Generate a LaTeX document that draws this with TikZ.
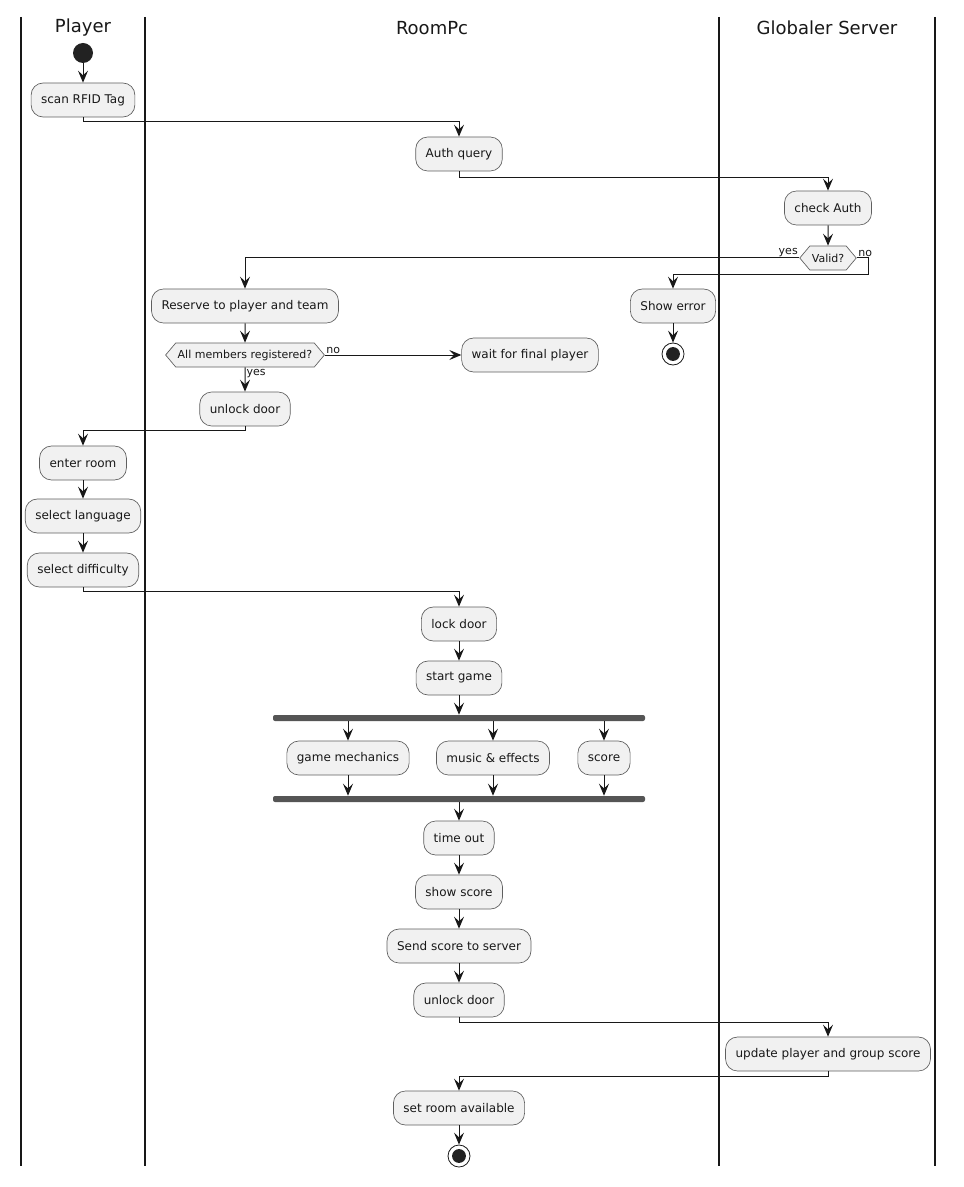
\documentclass[tikz,border=0pt]{standalone}
\usepackage{fontspec}
\setmainfont{DejaVu Sans}
\usetikzlibrary{arrows.meta,shapes.symbols}
\definecolor{boxfill}{HTML}{F1F1F1}
\definecolor{boxdraw}{HTML}{5F5F5F}
\definecolor{ink}{HTML}{181818}
\definecolor{barc}{HTML}{555555}
\definecolor{dotc}{HTML}{222222}
\begin{document}
\begin{tikzpicture}[x=0.75pt,y=-0.75pt,
  act/.style={draw=boxdraw, fill=boxfill, rounded corners=9pt, minimum height=25.5pt,
    inner xsep=7.5pt, inner ysep=0pt, line width=0.5pt, font=\fontsize{9}{11}\selectfont, text=ink},
  dec/.style={shape=signal, signal to=west and east, signal pointer angle=100, draw=boxdraw,
    fill=boxfill, line width=0.5pt, minimum height=18pt, inner xsep=1.5pt, inner ysep=0pt,
    font=\fontsize{8.25}{10}\selectfont, text=ink},
  lbl/.style={font=\fontsize{8.25}{10}\selectfont, text=ink, inner sep=1pt},
  lane/.style={line width=1.1pt, draw=ink},
  title/.style={font=\fontsize{13.5}{16}\selectfont, text=ink},
  arr/.style={draw=ink, line width=0.75pt, -{Stealth[length=9pt,width=7.5pt,inset=3.5pt]}},
  ln/.style={draw=ink, line width=0.75pt},
  bar/.style={fill=barc, rounded corners=1.5pt, minimum height=4.5pt, inner sep=0pt, minimum width=279pt},
  startc/.style={circle, fill=dotc, minimum size=15pt, inner sep=0pt},
  stopc/.style={circle, draw=ink, fill=white, line width=0.6pt, minimum size=16.5pt, inner sep=0pt,
    path picture={\fill[dotc] (path picture bounding box.center) circle (5.2pt);}}
]
\fill[white] (0,0) rectangle (963,1187);
\useasboundingbox (0,0) rectangle (963,1187);
% lanes
\draw[lane] (21,17) -- (21,1166);
\draw[lane] (145,17) -- (145,1166);
\draw[lane] (719,17) -- (719,1166);
\draw[lane] (935,17) -- (935,1166);
\node[title] (tPlayer) at (83,28) {Player};
\node[title] (tRoom) at (432,28) {RoomPc};
\node[title] (tServer) at (827,28) {Globaler Server};

% nodes
\node[startc] (start) at (83,53) {};
\node[act] (scan) at (83,100) {scan RFID Tag};
\node[act] (auth) at (459,154) {Auth query};
\node[act] (check) at (828,208) {check Auth};
\node[dec] (valid) at (828,258) {Valid?};
\node[act] (reserve) at (245,306) {Reserve to player and team};
\node[act] (err) at (673,306) {Show error};
\node[stopc] (stop1) at (673,354) {};
\node[dec] (allreg) at (245,355) {All members registered?};
\node[act] (wait) at (530,355) {wait for final player};
\node[act] (unlock1) at (245,409) {unlock door};
\node[act] (enter) at (83,463) {enter room};
\node[act] (lang) at (83,516) {select language};
\node[act] (diff) at (83,570) {select difficulty};
\node[act] (lock) at (459,624) {lock door};
\node[act] (startg) at (459,678) {start game};
\node[bar] (fork) at (459,718) {};
\node[act] (mech) at (348,758) {game mechanics};
\node[act] (music) at (493,758) {music \& effects};
\node[act] (score) at (604,758) {score};
\node[bar] (join) at (459,799) {};
\node[act] (timeout) at (459,838) {time out};
\node[act] (show) at (459,892) {show score};
\node[act] (send) at (459,946) {Send score to server};
\node[act] (unlock2) at (459,1000) {unlock door};
\node[act] (update) at (828,1054) {update player and group score};
\node[act] (avail) at (459,1108) {set room available};
\node[stopc] (stop2) at (459,1156) {};

% connectors
\draw[arr] (start) -- (scan);
\draw[arr] (scan.south) -- ++(0,4) -| (auth.north);
\draw[arr] (auth.south) -- ++(0,6) -| (check.north);
\draw[arr] (check) -- (valid);
\draw[arr] (valid.west) -| (reserve.north);
\node[lbl, anchor=south east] (lyes1) at (valid.west) {yes};
\draw[arr] (valid.east) -- ++(12,0) -- ++(0,17) -| (err.north);
\node[lbl, anchor=south west] (lno1) at (valid.east) {no};
\draw[arr] (err) -- (stop1);
\draw[arr] (reserve) -- (allreg);
\draw[arr] (allreg.east) -- (wait.west);
\node[lbl, anchor=south west] (lno2) at (allreg.east) {no};
\draw[arr] (allreg) -- (unlock1);
\node[lbl, anchor=north west] (lyes2) at (allreg.south) {yes};
\draw[arr] (unlock1.south) -- ++(0,4) -| (enter.north);
\draw[arr] (enter) -- (lang);
\draw[arr] (lang) -- (diff);
\draw[arr] (diff.south) -- ++(0,4) -| (lock.north);
\draw[arr] (lock) -- (startg);
\draw[arr] (startg) -- (fork);
\draw[arr] (fork.south -| mech.north) -- (mech.north);
\draw[arr] (fork.south -| music.north) -- (music.north);
\draw[arr] (fork.south -| score.north) -- (score.north);
\draw[arr] (mech.south) -- (mech.south |- join.north);
\draw[arr] (music.south) -- (music.south |- join.north);
\draw[arr] (score.south) -- (score.south |- join.north);
\draw[arr] (join) -- (timeout);
\draw[arr] (timeout) -- (show);
\draw[arr] (show) -- (send);
\draw[arr] (send) -- (unlock2);
\draw[arr] (unlock2.south) -- ++(0,5) -| (update.north);
\draw[arr] (update.south) -- ++(0,5) -| (avail.north);
\draw[arr] (avail) -- (stop2);
\end{tikzpicture}
\end{document}
